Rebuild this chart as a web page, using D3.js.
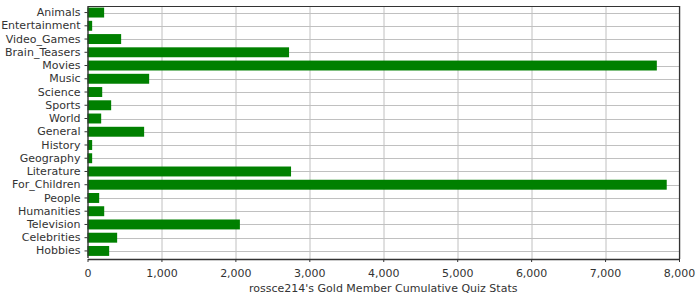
<!DOCTYPE html>
<html>
<head>
<meta charset="utf-8">
<script src="https://cdn.jsdelivr.net/npm/d3@7"></script>
<style>
  body { margin: 0; background: #fff; }
  text { font-family: "DejaVu Sans", sans-serif; fill: #333; }
</style>
</head>
<body>
<svg id="chart" width="700" height="300"></svg>
<script>
// categories and values
var categories = ["Animals", "Entertainment", "Video_Games", "Brain_Teasers", "Movies", "Music",
  "Science", "Sports", "World", "General", "History", "Geography", "Literature", "For_Children",
  "People", "Humanities", "Television", "Celebrities", "Hobbies"];
var quizValues = [225, 63, 455, 2726, 7700, 834, 199, 320, 185, 766, 63, 63, 2753, 7834,
  158, 226, 2061, 401, 293];
var xTicks = [0, 1000, 2000, 3000, 4000, 5000, 6000, 7000, 8000];
var title = "rossce214's Gold Member Cumulative Quiz Stats";

var margin = {top: 6, right: 21, bottom: 41, left: 87.5};
var width = 700 - margin.left - margin.right;
var height = 300 - margin.top - margin.bottom;

var svg = d3.select('#chart')
  .append('g')
  .attr('transform', 'translate(' + margin.left + ',' + margin.top + ')');

var data = categories.map(function(c, i) { return {name: c, value: quizValues[i]}; });

var xScale = d3.scaleLinear().domain([0, 8000]).range([0, width]);
var yScale = d3.scaleBand().domain(categories).range([0, height - 1.5]).paddingInner(0.25).paddingOuter(0.12);

// ********************************* Grid Lines
svg.append('g')
  .attr('class', 'x-grid')
  .selectAll('line')
  .data(xTicks.slice(1))
  .enter().append('line')
  .attr('x1', function(d) { return Math.round(xScale(d)) + 0.5; })
  .attr('x2', function(d) { return Math.round(xScale(d)) + 0.5; })
  .attr('y1', 0)
  .attr('y2', height)
  .attr('stroke', '#c0c0c0')
  .attr('stroke-width', 1);

svg.append('g')
  .attr('class', 'y-grid')
  .selectAll('line')
  .data(categories)
  .enter().append('line')
  .attr('x1', 0)
  .attr('x2', width)
  .attr('y1', function(d) { return Math.round(yScale(d) + yScale.bandwidth() / 2) + 0.5; })
  .attr('y2', function(d) { return Math.round(yScale(d) + yScale.bandwidth() / 2) + 0.5; })
  .attr('stroke', '#c0c0c0')
  .attr('stroke-width', 1);

// ********************************* Bars
svg.selectAll('.bar')
  .data(data)
  .enter().append('rect')
  .attr('class', 'bar')
  .attr('x', 0)
  .attr('y', function(d) { return yScale(d.name); })
  .attr('width', function(d) { return xScale(d.value); })
  .attr('height', yScale.bandwidth())
  .attr('fill', '#008000');

// ********************************* Frame
svg.append('path')
  .attr('d', 'M0,0.5H' + (width + 0.5) + 'V' + height)
  .attr('fill', 'none')
  .attr('stroke', '#333')
  .attr('stroke-width', 1.2);

// ********************************* Axes
var xAxis = svg.append('g')
  .attr('transform', 'translate(0,' + height + ')')
  .call(d3.axisBottom(xScale).tickValues(xTicks).tickSize(3).tickSizeOuter(0).tickFormat(d3.format(',')));

var yAxis = svg.append('g')
  .call(d3.axisLeft(yScale).tickSize(3).tickSizeOuter(0).tickPadding(4));

[xAxis, yAxis].forEach(function(ax) {
  ax.select('.domain').attr('stroke', '#333').attr('stroke-width', 1.4);
  ax.selectAll('.tick line').attr('stroke', '#333');
  ax.selectAll('.tick text').attr('font-family', '"DejaVu Sans", sans-serif').attr('font-size', 11).attr('fill', '#333');
});
xAxis.selectAll('.tick text').attr('dy', '1.05em');

svg.append('text')
  .attr('x', width / 2)
  .attr('y', height + 33)
  .attr('text-anchor', 'middle')
  .attr('font-size', 11)
  .text(title);
</script>
</body>
</html>
